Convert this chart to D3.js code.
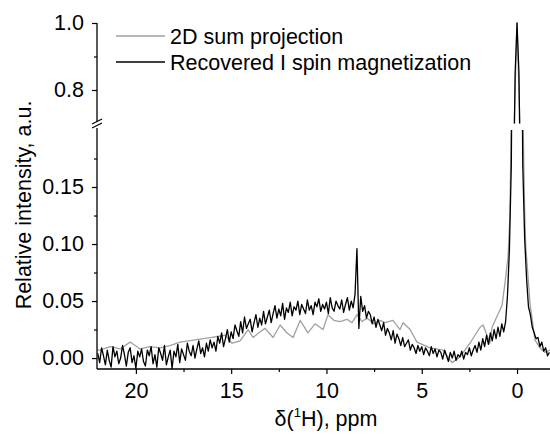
<!DOCTYPE html>
<html>
<head>
<meta charset="utf-8">
<script src="https://cdn.jsdelivr.net/npm/d3@7"></script>
<style>
  body { margin: 0; background: #fff; }
  text { font-family: "Liberation Sans", Arial, sans-serif; }
</style>
</head>
<body>
<svg id="chart"></svg>
<script>
const W = 550, H = 435;
const FS = 21.5;

// recovered I spin magnetization, uniform grid from 22.0 ppm down by 0.1 ppm
const blackStart = 22.0, blackStep = 0.1;
const blackVals = [
  0.004,-0.004,0.009,0.002,-0.006,0.007,-0.002,-0.008,0.010,0.001,
  0.006,-0.005,0.000,0.011,0.003,-0.007,0.005,0.009,-0.004,0.002,
  -0.009,0.006,0.001,0.008,-0.003,-0.007,0.007,0.002,0.010,-0.005,
  0.003,-0.008,0.009,0.004,-0.002,0.011,-0.006,0.001,0.007,-0.009,
  0.006,0.001,0.012,-0.004,0.008,0.003,-0.002,0.013,0.006,0.002,
  0.011,0.000,0.008,0.015,0.004,0.009,0.001,0.013,0.006,0.016,
  0.009,0.014,0.006,0.019,0.013,0.022,0.010,0.017,0.025,0.014,
  0.023,0.017,0.029,0.024,0.019,0.032,0.022,0.036,0.026,0.030,
  0.034,0.023,0.031,0.038,0.027,0.035,0.029,0.041,0.030,0.036,
  0.042,0.031,0.039,0.046,0.035,0.043,0.037,0.048,0.034,0.044,
  0.040,0.049,0.037,0.045,0.042,0.050,0.038,0.047,0.043,0.039,
  0.051,0.042,0.046,0.038,0.049,0.045,0.052,0.041,0.047,0.043,
  0.049,0.039,0.053,0.044,0.041,0.050,0.046,0.043,0.051,0.040,
  0.047,0.053,0.042,0.050,0.044,0.056,0.096,0.026,0.054,0.041,
  0.046,0.035,0.041,0.038,0.030,0.036,0.027,0.034,0.029,0.024,
  0.031,0.020,0.026,0.022,0.016,0.024,0.013,0.021,0.017,0.011,
  0.018,0.010,0.013,0.016,0.007,0.012,0.009,0.004,0.011,0.006,
  0.010,0.003,0.009,0.006,0.002,0.010,0.004,0.008,0.001,0.007,
  0.005,-0.001,0.007,0.002,-0.003,0.005,0.000,0.006,-0.002,0.003,
  0.001,0.006,-0.001,0.005,0.003,0.009,0.002,0.007,0.011,0.005,
  0.014,0.007,0.017,0.010,0.020,0.012,0.022,0.015,0.025,0.017,
  0.027,0.019,0.030,0.023,0.032,0.055,0.095,0.17,0.42,0.85,
  1.0,
  0.85,0.42,0.17,0.105,0.07,0.045,0.038,0.027,0.022,0.017,
  0.018,0.010,0.014,0.006,0.009,0.002,0.005
];

// 2D sum projection (coarser sampling)
const grayPpm = [
  22.04,21.88,21.35,20.83,20.30,19.78,19.25,18.73,18.21,17.68,16.89,16.10,15.32,14.95,14.53,
  14.11,13.85,13.48,13.22,12.80,12.43,12.07,11.75,11.38,10.97,10.60,10.18,9.92,9.60,9.29,
  8.92,8.66,8.39,8.13,7.87,7.50,7.19,6.93,6.51,6.14,5.98,5.61,5.25,4.56,3.88,
  3.41,2.99,2.47,1.94,1.78,1.42,1.31,0.79,0.63,0.47,0.37,0.27,0.14,0,
  -0.14,-0.27,-0.40,-0.45,-0.68,-0.94,-1.20,-1.45,-1.73
];
const grayVals = [
  0.007,0.007,0.010,0.008,0.014,0.008,0.010,0.009,0.011,0.014,0.016,0.018,0.020,0.013,0.015,
  0.025,0.018,0.023,0.026,0.018,0.029,0.022,0.018,0.033,0.022,0.030,0.025,0.038,0.033,0.032,
  0.034,0.031,0.038,0.032,0.035,0.030,0.033,0.031,0.033,0.025,0.031,0.025,0.014,0.009,0.007,
  -0.004,0.001,0.013,0.027,0.029,0.013,0.027,0.046,0.066,0.089,0.127,0.25,0.72,1.0,
  0.72,0.25,0.13,0.10,0.048,0.016,0.009,0.005,0.007
];

const yTicksLow = [0, 0.05, 0.10, 0.15];
const yMinorLow = [0.025, 0.075, 0.125, 0.175];
const yTicksHigh = [0.8, 1.0];
const yMinorHigh = [0.9];
const xTicks = [20, 15, 10, 5, 0];
const xMinor = [17.5, 12.5, 7.5, 2.5];

const legendItems = [
  { label: "2D sum projection", color: "#a0a0a0" },
  { label: "Recovered I spin magnetization", color: "#000" }
];

const left = 97, right = 550, bottom = 369;

const x = d3.scaleLinear().domain([22.04, -1.73]).range([left, right]);
const yLow = d3.scaleLinear().domain([-0.0096, 0.2]).range([bottom, 130]);
const yHigh = d3.scaleLinear().domain([0.7, 1.0]).range([123.5, 23]);

const svg = d3.select("#chart").attr("width", W).attr("height", H);

const defs = svg.append("defs");
defs.append("clipPath").attr("id", "clipLow").append("rect")
  .attr("x", left).attr("y", 130).attr("width", right - left).attr("height", bottom - 130);
defs.append("clipPath").attr("id", "clipHigh").append("rect")
  .attr("x", left).attr("y", 20).attr("width", right - left).attr("height", 123.5 - 20);

const blackData = blackVals.map((v, i) => [blackStart - i * blackStep, v]);
const grayData = grayPpm.map((p, i) => [p, grayVals[i]]);

const lineLow = d3.line().x(d => x(d[0])).y(d => yLow(d[1]));
const lineHigh = d3.line().x(d => x(d[0])).y(d => yHigh(d[1]));

const gLow = svg.append("g").attr("clip-path", "url(#clipLow)");
const gHigh = svg.append("g").attr("clip-path", "url(#clipHigh)");

[[gLow, lineLow], [gHigh, lineHigh]].forEach(([g, ln]) => {
  g.append("path").datum(grayData)
    .attr("d", ln).attr("fill", "none")
    .attr("stroke", "#a0a0a0").attr("stroke-width", 1.3).attr("stroke-linejoin", "round");
  g.append("path").datum(blackData)
    .attr("d", ln).attr("fill", "none")
    .attr("stroke", "#000").attr("stroke-width", 1.3).attr("stroke-linejoin", "round");
});

// axes
function styleAxis(g) {
  g.select(".domain").remove();
  g.selectAll(".tick line").attr("stroke", "#000").attr("stroke-width", 1.2);
  g.selectAll(".tick text").attr("font-size", FS).attr("fill", "#000")
    .attr("font-family", "'Liberation Sans', Arial, sans-serif");
}

svg.append("g").attr("transform", `translate(${left},0)`)
  .call(d3.axisLeft(yLow).tickValues(yTicksLow).tickSize(5).tickPadding(8).tickFormat(d3.format(".2f")))
  .call(styleAxis);
svg.append("g").attr("transform", `translate(${left},0)`)
  .call(d3.axisLeft(yLow).tickValues(yMinorLow).tickSize(3).tickFormat(""))
  .call(styleAxis);
svg.append("g").attr("transform", `translate(${left},0)`)
  .call(d3.axisLeft(yHigh).tickValues(yTicksHigh).tickSize(5).tickPadding(8).tickFormat(d3.format(".1f")))
  .call(styleAxis);
svg.append("g").attr("transform", `translate(${left},0)`)
  .call(d3.axisLeft(yHigh).tickValues(yMinorHigh).tickSize(3).tickFormat(""))
  .call(styleAxis);

svg.append("g").attr("transform", `translate(0,${bottom})`)
  .call(d3.axisBottom(x).tickValues(xTicks).tickSize(5).tickPadding(9).tickFormat(d3.format("d")))
  .call(styleAxis);
svg.append("g").attr("transform", `translate(0,${bottom})`)
  .call(d3.axisBottom(x).tickValues(xMinor).tickSize(3).tickFormat(""))
  .call(styleAxis);

// axis lines with the break
svg.append("line").attr("x1", left).attr("x2", left).attr("y1", 23).attr("y2", 122)
  .attr("stroke", "#000").attr("stroke-width", 1.3);
svg.append("line").attr("x1", left).attr("x2", left).attr("y1", 128).attr("y2", bottom)
  .attr("stroke", "#000").attr("stroke-width", 1.3);
svg.append("line").attr("x1", left).attr("x2", right).attr("y1", bottom).attr("y2", bottom)
  .attr("stroke", "#000").attr("stroke-width", 1.3);
[0, 4].forEach(off => {
  svg.append("line")
    .attr("x1", left - 5).attr("y1", 124 + off).attr("x2", left + 5).attr("y2", 119 + off)
    .attr("stroke", "#000").attr("stroke-width", 1.2);
});

// legend
legendItems.forEach((d, i) => {
  const y = 36 + i * 26;
  svg.append("line").attr("x1", 116).attr("x2", 165).attr("y1", y).attr("y2", y)
    .attr("stroke", d.color).attr("stroke-width", 1.3);
  svg.append("text").attr("x", 170).attr("y", y + 8)
    .attr("font-size", FS).text(d.label);
});

// axis titles
svg.append("text")
  .attr("transform", "translate(31,205) rotate(-90)")
  .attr("text-anchor", "middle").attr("font-size", FS)
  .text("Relative intensity, a.u.");

const xt = svg.append("text").attr("x", 326).attr("y", 426)
  .attr("text-anchor", "middle").attr("font-size", FS);
xt.append("tspan").text("δ(");
xt.append("tspan").attr("font-size", 13).attr("dy", -9).text("1");
xt.append("tspan").attr("dy", 9).text("H), ppm");
</script>
</body>
</html>
